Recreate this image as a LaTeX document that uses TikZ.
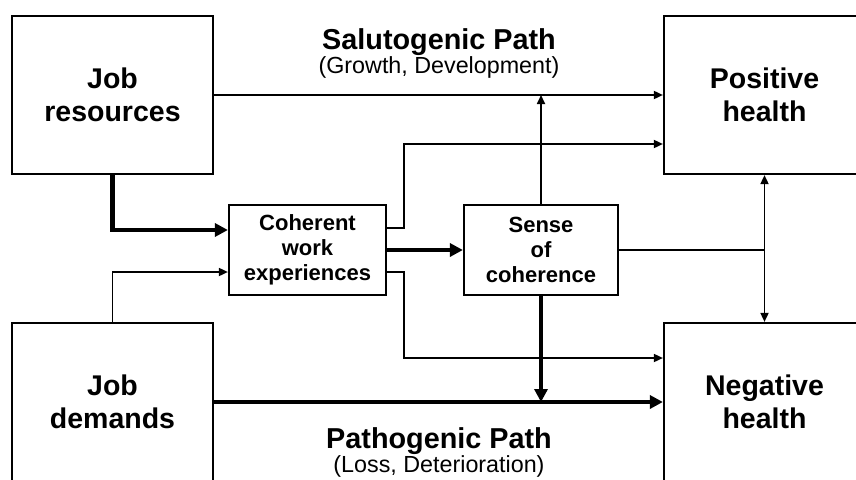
\documentclass[tikz,border=0pt]{standalone}
\usepackage{fontspec}
\setmainfont{Liberation Sans}
\usetikzlibrary{arrows.meta, positioning}

\begin{document}
\begin{tikzpicture}[x=1pt, y=-1pt,
    bigbox/.style={draw, line width=2.2pt, minimum width=201pt, minimum height=158pt, align=center, inner sep=0pt, font=\fontsize{28.5}{32.5}\selectfont\bfseries},
    smallbox/.style={draw, line width=2.2pt, minimum height=90pt, align=center, inner sep=0pt, font=\fontsize{22}{25}\selectfont\bfseries},
    thinline/.style={line width=1.7pt, >={Triangle[length=9pt,width=8pt]}},
    thickline/.style={line width=4.2pt, >={Triangle[length=13pt,width=13pt]}},
    pathtitle/.style={anchor=base, font=\fontsize{28.8}{30}\selectfont\bfseries},
    pathsub/.style={anchor=base, font=\fontsize{23.3}{25}\selectfont}]

\useasboundingbox (0,0) rectangle (856,479);
\clip (0,0) rectangle (856,479);

% Outer boxes
\node[bigbox] (res) at (112.5,95) {Job\\resources};
\node[bigbox] (dem) at (112.5,402) {Job\\demands};
\node[bigbox] (pos) at (764.5,95) {Positive\\health};
\node[bigbox] (neg) at (764.5,402) {Negative\\health};

% Middle boxes
\node[smallbox, minimum width=157pt] (coh) at (307.5,250) {Coherent\\work\\experiences};
\node[smallbox, minimum width=154pt] (soc) at (541,250) {Sense\\of\\coherence};

% Path labels
\node[pathtitle] (salut) at (439,49) {Salutogenic Path};
\node[pathsub] (salutsub) at (439,73) {(Growth, Development)};
\node[pathtitle] (patho) at (439,448) {Pathogenic Path};
\node[pathsub] (pathosub) at (439,472) {(Loss, Deterioration)};

% Salutogenic path
\draw[thinline,->] (res.east) -- (pos.west);
\draw[thinline,->] (soc.north) -- (soc.north |- res.east);
\draw[thinline,->] ([yshift=22pt]coh.east) -- ++(17,0) |- ([yshift=-49pt]pos.west);

% Into coherent work experiences
\draw[thickline,->] (res.south) |- ([yshift=20pt]coh.west);
\draw[thinline,->] (dem.north) |- ([yshift=-22pt]coh.west);
\draw[thickline,->] (coh.east) -- (soc.west);

% Pathogenic path
\draw[thickline,->] (dem.east) -- (neg.west);
\draw[thickline,->] (soc.south) -- (soc.south |- dem.east);
\draw[thinline,->] ([yshift=-22pt]coh.east) -- ++(17,0) |- ([yshift=44pt]neg.west);

% Sense of coherence to both health outcomes
\coordinate (hub) at (soc.east -| pos.south);
\draw[thinline] (soc.east) -- (hub);
\draw[thinline,<->] (pos.south) -- (neg.north);

\end{tikzpicture}
\end{document}
